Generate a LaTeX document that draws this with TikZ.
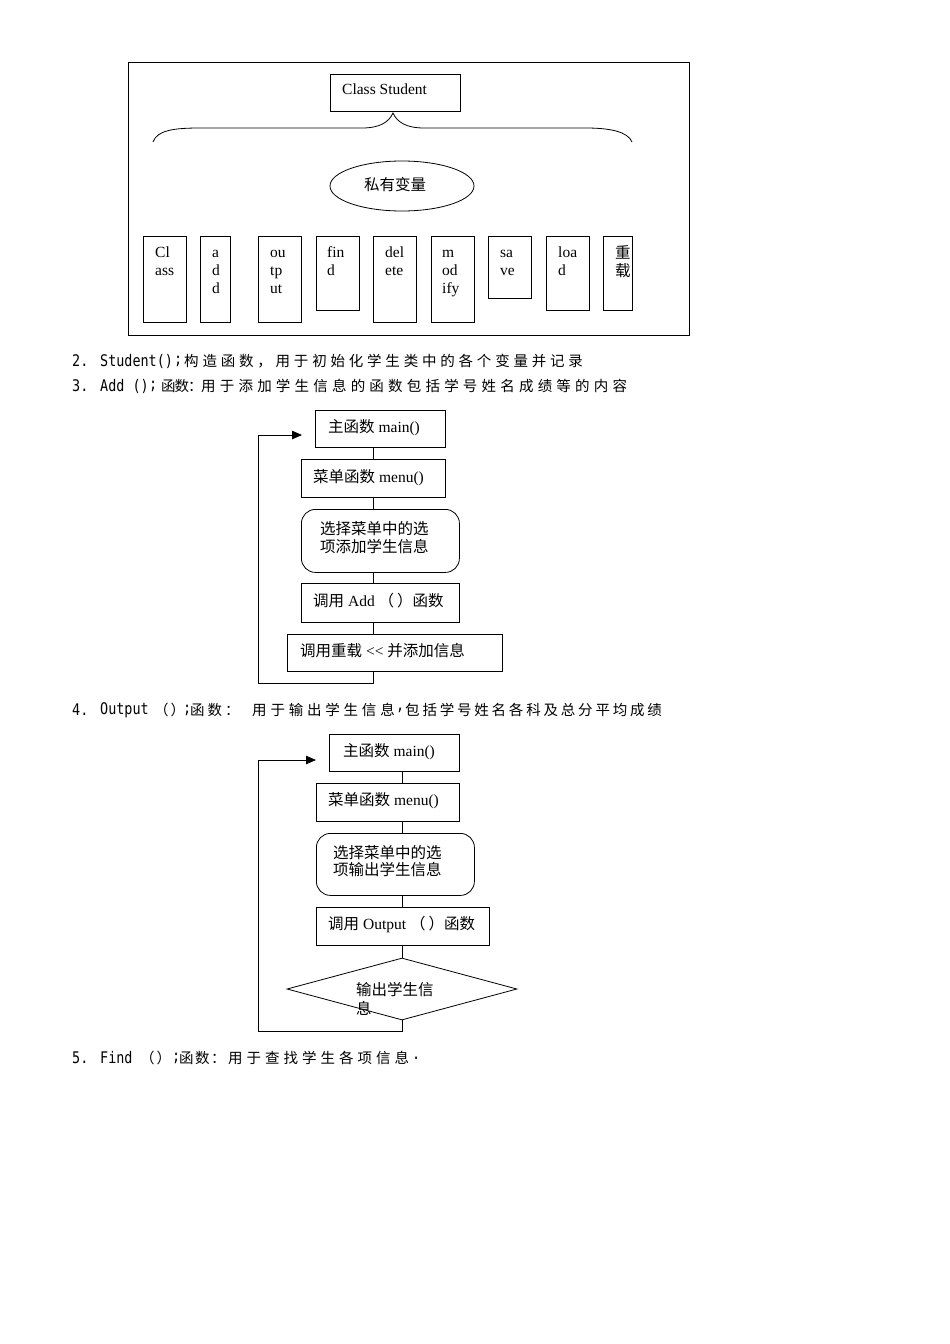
\documentclass[tikz,border=0pt]{standalone}
\usepackage{fontspec}
\setmainfont{Liberation Serif}
\newfontfamily\cjk{Noto Sans CJK SC}
\newfontfamily\monof[FakeStretch=0.84]{DejaVu Sans Mono}
\usetikzlibrary{arrows.meta,shapes.geometric}
\makeatletter
\newcommand\cjkrun[2]{\def\my@pitch{#1}\my@loop#2\relax}
\def\my@loop#1{\ifx\relax#1\else\makebox[\my@pitch][l]{#1}\expandafter\my@loop\fi}
\makeatother
\begin{document}
\begin{tikzpicture}[x=1pt,y=-1pt,
  box/.style={draw,line width=0.8pt,anchor=north west,inner sep=0pt},
  rbox/.style={box,rounded corners=14pt},
  txt/.style={anchor=base west,inner sep=0pt,font=\fontsize{15.5}{18}\selectfont},
  ftxt/.style={anchor=west,inner sep=0pt,font=\fontsize{15.5}{18}\selectfont},
  mono/.style={anchor=west,inner sep=0pt,font=\fontsize{16}{18}\monof},
  cj/.style={anchor=west,inner sep=0pt,font=\fontsize{14.5}{18}\cjk},
  conn/.style={draw,line width=0.8pt},
  arr/.style={conn,-{Triangle[length=10pt,width=8.5pt]}}]
\useasboundingbox (0,0) rectangle (950,1344);
% ---------- class diagram ----------
\node[box,minimum width=561,minimum height=273] (outer) at (128,62) {};
\node[box,minimum width=130,minimum height=37] (cls) at (330,74) {};
\node[txt] (clst) at (342,94) {Class Student};
\draw[line width=0.8pt] (153,142) .. controls (157,130) and (175,128) .. (200,128) -- (362,128)
  .. controls (380,128) and (389,122) .. (393,113) .. controls (397,122) and (406,128) .. (424,128)
  -- (586,128) .. controls (611,128) and (628,132) .. (632,142);
\node[draw,line width=0.8pt,ellipse,minimum width=144,minimum height=50,inner sep=0pt] (priv) at (402,186) {};
\node[anchor=center,inner sep=0pt,font=\fontsize{15.5}{18}\cjk] (privt) at (395,185) {私有变量};
\node[box,minimum width=43,minimum height=86] (b1) at (143,236) {};
\node[box,minimum width=30,minimum height=86] (b2) at (200,236) {};
\node[box,minimum width=43,minimum height=86] (b3) at (258,236) {};
\node[box,minimum width=43,minimum height=74] (b4) at (316,236) {};
\node[box,minimum width=43,minimum height=86] (b5) at (373,236) {};
\node[box,minimum width=43,minimum height=86] (b6) at (431,236) {};
\node[box,minimum width=43,minimum height=62] (b7) at (488,236) {};
\node[box,minimum width=43,minimum height=74] (b8) at (546,236) {};
\node[box,minimum width=29,minimum height=74] (b9) at (603,236) {};
\node[txt] (b1a) at (155,257) {Cl};
\node[txt] (b1b) at (155,275) {ass};
\node[txt] (b2a) at (212,257) {a};
\node[txt] (b2b) at (212,275) {d};
\node[txt] (b2c) at (212,293) {d};
\node[txt] (b3a) at (270,257) {ou};
\node[txt] (b3b) at (270,275) {tp};
\node[txt] (b3c) at (270,293) {ut};
\node[txt] (b4a) at (327,257) {fin};
\node[txt] (b4b) at (327,275) {d};
\node[txt] (b5a) at (385,257) {del};
\node[txt] (b5b) at (385,275) {ete};
\node[txt] (b6a) at (442,257) {m};
\node[txt] (b6b) at (442,275) {od};
\node[txt] (b6c) at (442,293) {ify};
\node[txt] (b7a) at (500,257) {sa};
\node[txt] (b7b) at (500,275) {ve};
\node[txt] (b8a) at (558,257) {loa};
\node[txt] (b8b) at (558,275) {d};
\node[txt,font=\fontsize{15.5}{18}\cjk] (b9a) at (615,258) {重};
\node[txt,font=\fontsize{15.5}{18}\cjk] (b9b) at (615,276) {载};
% ---------- text lines ----------
\node[mono] (l2a) at (72,361) {2.};
\node[mono] (l2b) at (100,361) {Student()};
\node[mono] (l2d) at (174,361) {;};
\node[cj] (l2c) at (184,361) {\cjkrun{18.3pt}{构造函数，用于初始化学生类中的各个变量并记录}};
\node[mono] (l3a) at (72,386) {3.};
\node[mono] (l3b) at (100,386) {Add ()};
\node[mono] (l3e) at (149,386) {;};
\node[cj] (l3c) at (161,386) {\cjkrun{13.5pt}{函数：}};
\node[cj] (l3d) at (201,386) {\cjkrun{18.7pt}{用于添加学生信息的函数包括学号姓名成绩等的内容}};
% ---------- flowchart 1 ----------
\coordinate (ax1) at (373,0);
\node[box,minimum width=130,minimum height=37] (m1) at (315,410) {};
\node[box,minimum width=144,minimum height=38] (n1) at (301,459) {};
\node[rbox,minimum width=158,minimum height=63] (s1) at (301,509) {};
\node[box,minimum width=158,minimum height=39] (a1) at (301,583) {};
\node[box,minimum width=215,minimum height=37] (r1) at (287,634) {};
\node[ftxt] (m1t) at (328,428) {{\cjk 主函数} main()};
\node[ftxt] (n1t) at (313,478) {{\cjk 菜单函数} menu()};
\node[ftxt,font=\fontsize{15.5}{18}\cjk] (s1t) at (320,529) {选择菜单中的选};
\node[ftxt,font=\fontsize{15.5}{18}\cjk] (s1u) at (320,547) {项添加学生信息};
\node[ftxt] (a1t) at (313,601) {{\cjk 调用} Add {\cjk （\hspace{3pt}）函数}};
\node[ftxt] (r1t) at (300,651) {{\cjk 调用重载} {<}{<} {\cjk 并添加信息}};
\draw[conn] (m1.south -| ax1) -- (n1.north -| ax1);
\draw[conn] (n1.south -| ax1) -- (s1.north -| ax1);
\draw[conn] (s1.south -| ax1) -- (a1.north -| ax1);
\draw[conn] (a1.south -| ax1) -- (r1.north -| ax1);
\coordinate (lp1) at (258,683);
\coordinate (tip1) at (302,435);
\draw[arr] (r1.south -| ax1) |- (lp1) |- (tip1);
% ---------- text line 4 ----------
\node[mono] (l4a) at (72,710) {4.};
\node[mono] (l4b) at (100,710) {Output};
\node[cj] (l4c) at (154,710) {（\hspace{2pt}）};
\node[mono] (l4d) at (183,710) {;};
\node[cj] (l4e) at (190,710) {\cjkrun{17.5pt}{函数：}};
\node[cj] (l4f) at (252,710) {\cjkrun{18.3pt}{用于输出学生信息}};
\node[mono] (l4g) at (396,710) {,};
\node[cj] (l4h) at (405,710) {\cjkrun{17.3pt}{包括学号姓名各科及总分平均成绩}};
% ---------- flowchart 2 ----------
\coordinate (ax2) at (402,0);
\node[box,minimum width=130,minimum height=37] (m2) at (329,734) {};
\node[box,minimum width=143,minimum height=38] (n2) at (316,783) {};
\node[rbox,minimum width=158,minimum height=62] (s2) at (316,833) {};
\node[box,minimum width=173,minimum height=38] (o2) at (316,907) {};
\node[draw,line width=0.8pt,diamond,aspect=3.7,minimum width=230,minimum height=62,inner sep=0pt] (d2) at (402,989) {};
\node[ftxt] (m2t) at (343,752) {{\cjk 主函数} main()};
\node[ftxt] (n2t) at (328,801) {{\cjk 菜单函数} menu()};
\node[ftxt,font=\fontsize{15.5}{18}\cjk] (s2t) at (333,853) {选择菜单中的选};
\node[ftxt,font=\fontsize{15.5}{18}\cjk] (s2u) at (333,870) {项输出学生信息};
\node[ftxt] (o2t) at (328,925) {{\cjk 调用} Output {\cjk （\hspace{3pt}）函数}};
\node[ftxt,font=\fontsize{15.5}{18}\cjk] (d2t) at (356,990) {输出学生信};
\node[ftxt,font=\fontsize{15.5}{18}\cjk] (d2u) at (356,1008) {息};
\draw[conn] (m2.south -| ax2) -- (n2.north -| ax2);
\draw[conn] (n2.south -| ax2) -- (s2.north -| ax2);
\draw[conn] (s2.south -| ax2) -- (o2.north -| ax2);
\draw[conn] (o2.south -| ax2) -- (d2.north);
\coordinate (lp2) at (258,1031);
\coordinate (tip2) at (316,760);
\draw[arr] (d2.south) |- (lp2) |- (tip2);
% ---------- text line 5 ----------
\node[mono] (l5a) at (72,1058) {5.};
\node[mono] (l5b) at (100,1058) {Find};
\node[cj] (l5c) at (140,1058) {（\hspace{2pt}）};
\node[mono] (l5d) at (172,1058) {;};
\node[cj] (l5e) at (179,1058) {\cjkrun{16pt}{函数：}};
\node[cj] (l5f) at (228,1058) {\cjkrun{18.5pt}{用于查找学生各项信息}};
\node[mono] (l5g) at (412,1058) {.};
\end{tikzpicture}
\end{document}
